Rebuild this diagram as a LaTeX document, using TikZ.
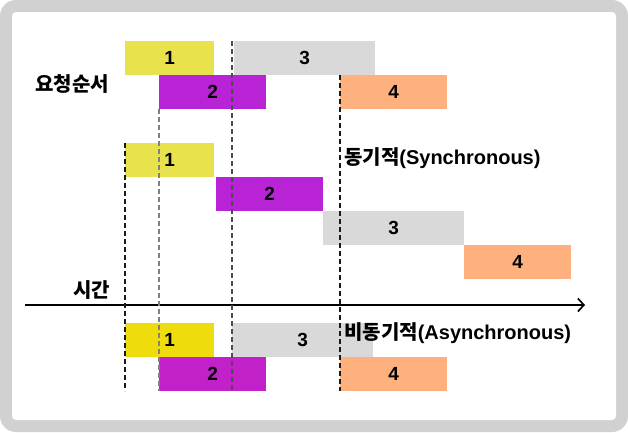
\documentclass[tikz,border=0pt]{standalone}
\usepackage{fontspec}
\setmainfont{Liberation Sans}
\newfontfamily\krfont{Noto Sans CJK KR}
\usepackage{xcolor}
\usetikzlibrary{arrows.meta}
\definecolor{framex}{HTML}{D1D1D1}
\definecolor{yellowx}{HTML}{E8E24C}
\definecolor{yellowy}{HTML}{EEDC0C}
\definecolor{purplex}{HTML}{B823D5}
\definecolor{purpley}{HTML}{C220C8}
\definecolor{grayx}{HTML}{D9D9D9}
\definecolor{orangex}{HTML}{FFB07F}
\tikzset{
  bx/.style={anchor=north west,inner sep=0pt,minimum height=34pt,font=\bfseries\fontsize{19}{21}\selectfont},
  yl/.style={bx,fill=yellowx,minimum width=89pt},
  pp/.style={bx,fill=purplex,minimum width=107pt},
  gy/.style={bx,fill=grayx,minimum width=141pt},
  og/.style={bx,fill=orangex,minimum width=107pt},
  dl/.style={line width=1.2pt,dash pattern=on 5pt off 3pt},
  lb/.style={inner sep=0pt,font=\bfseries\fontsize{20}{22}\selectfont}
}
\begin{document}
\begin{tikzpicture}[x=1pt,y=-1pt]
\useasboundingbox (0,0) rectangle (628,432);
\fill[framex,rounded corners=16pt] (0,0) rectangle (628,432);
\fill[white,rounded corners=4pt] (12,12) rectangle (616,420);
% request order
\node[yl] (a1) at (125,41) {1};
\node[gy] (a3) at (234,41) {3};
\node[pp] (a2) at (159,75) {2};
\node[og] (a4) at (340,75) {4};
\node[lb,anchor=east] (req) at (109,84) {\krfont 요청순서};
% synchronous
\node[yl] (s1) at (125,143) {1};
\node[pp] (s2) at (216,177) {2};
\node[gy] (s3) at (323,211) {3};
\node[og] (s4) at (464,245) {4};
\node[lb,anchor=west] (sync) at (344,158) {{\krfont 동기적}(Synchronous)};
% time axis
\coordinate (t0) at (25,305);
\coordinate (t1) at (585,305);
\draw[line width=1.8pt,-{Straight Barb[length=6pt,width=13pt,line width=1.6pt]}] (t0) -- (t1);
\node[lb,anchor=east] (time) at (110,290) {\krfont 시간};
% asynchronous
\node[bx,fill=yellowy,minimum width=89pt] (n1) at (125,323) {1};
\node[gy] (n3) at (232,323) {3};
\node[bx,fill=purpley,minimum width=107pt] (n2) at (159,357) {2};
\node[og] (n4) at (340,357) {4};
% guide lines
\draw[dl,black!90] (125,143) -- (125,391);
\draw[dl,black!50] (159,109) -- (159,391);
\draw[dl,black!70] (232,41) -- (232,391);
\draw[dl,black!90] (340,75) -- (340,391);
\node[lb,anchor=west] (async) at (344,333) {{\krfont 비동기적}(Asynchronous)};
\end{tikzpicture}
\end{document}
